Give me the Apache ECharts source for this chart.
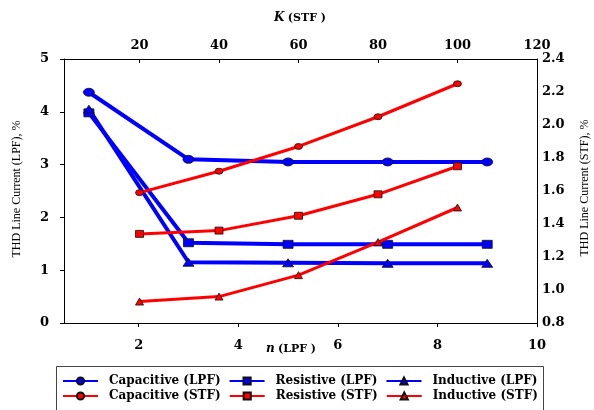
<!DOCTYPE html>
<html>
<head>
<meta charset="utf-8">
<script src="https://cdn.jsdelivr.net/npm/echarts@6/dist/echarts.min.js"></script>
<style>
  html, body { margin: 0; padding: 0; background: #fff; }
  #chart { width: 594px; height: 410px; }
</style>
</head>
<body>
<div id="chart"></div>
<script>
// Harmonic order n for the low-pass filter (bottom axis)
var nLPF = [1, 3, 5, 7, 9];
// THD line current with LPF, % (left axis)
var capLPF = [4.37, 3.10, 3.05, 3.05, 3.05];
var resLPF = [3.98, 1.52, 1.49, 1.49, 1.49];
var indLPF = [4.05, 1.15, 1.14, 1.13, 1.13];

// Gain K for the series tuned filter (top axis)
var kSTF = [20, 40, 60, 80, 100];
// THD line current with STF, % (right axis)
var capSTF = [1.59, 1.72, 1.87, 2.05, 2.25];
var resSTF = [1.34, 1.36, 1.45, 1.58, 1.75];
var indSTF = [0.93, 0.96, 1.09, 1.29, 1.50];

// Tick labels
var nTicks = [2, 4, 6, 8, 10];
var kTicks = [20, 40, 60, 80, 100, 120];

function pairs(xs, ys) {
  return xs.map(function (x, i) { return [x, ys[i]]; });
}

var BLUE = '#0000FF';
var RED = '#FF0000';
var tickFont = { fontFamily: 'DejaVu Serif', fontWeight: 'bold', fontSize: 13, color: '#000' };
var axisLine = { show: true, onZero: false, lineStyle: { color: '#000', width: 1 } };

function lpfSeries(name, symbol, size, values) {
  return {
    name: name, type: 'line', xAxisIndex: 0, yAxisIndex: 0,
    data: pairs(nLPF, values),
    symbol: symbol, symbolSize: size,
    lineStyle: { color: BLUE, width: 4 },
    itemStyle: { color: BLUE, borderColor: '#111', borderWidth: 0.8 },
    z: 2
  };
}
function stfSeries(name, symbol, size, values) {
  return {
    name: name, type: 'line', xAxisIndex: 1, yAxisIndex: 1,
    data: pairs(kSTF, values),
    symbol: symbol, symbolSize: size,
    lineStyle: { color: RED, width: 3 },
    itemStyle: { color: RED, borderColor: '#111', borderWidth: 0.8 },
    z: 3
  };
}

var legendText = { fontFamily: 'DejaVu Serif', fontWeight: 'bold', fontSize: 12, color: '#000', padding: [0, 0, 0, 6] };

var chart = echarts.init(document.getElementById('chart'), null, { renderer: 'canvas' });
chart.setOption({
  animation: false,
  backgroundColor: '#fff',
  grid: { left: 64, right: 57, top: 59, bottom: 87, containLabel: false },
  xAxis: [
    {
      type: 'value', position: 'bottom', min: 0.5, max: 10,
      axisLine: axisLine,
      axisTick: { show: true, inside: false, length: 4, customValues: nTicks, lineStyle: { color: '#000' } },
      axisLabel: Object.assign({ margin: 16, customValues: nTicks }, tickFont),
      splitLine: { show: false }
    },
    {
      type: 'value', position: 'top', min: 1, max: 120,
      axisLine: axisLine,
      axisTick: { show: true, inside: true, length: 4, customValues: kTicks, lineStyle: { color: '#000' } },
      axisLabel: Object.assign({ margin: 7, customValues: kTicks }, tickFont),
      splitLine: { show: false }
    }
  ],
  yAxis: [
    {
      type: 'value', position: 'left', min: 0, max: 5, interval: 1,
      axisLine: axisLine,
      axisTick: { show: true, inside: false, length: 4, lineStyle: { color: '#000' } },
      axisLabel: Object.assign({ margin: 15 }, tickFont),
      splitLine: { show: false }
    },
    {
      type: 'value', position: 'right', min: 0.8, max: 2.4, interval: 0.2,
      axisLine: axisLine,
      axisTick: { show: false },
      axisLabel: Object.assign({ margin: 5, formatter: function (v) { return v.toFixed(1); } }, tickFont),
      splitLine: { show: false }
    }
  ],
  legend: [
    {
      data: ['Capacitive (LPF)', 'Resistive (LPF)', 'Inductive (LPF)'],
      left: 57, top: 370, itemWidth: 35, itemHeight: 9, itemGap: 8,
      textStyle: legendText, selectedMode: false
    },
    {
      data: ['Capacitive (STF)', 'Resistive (STF)', 'Inductive (STF)'],
      left: 57, top: 385, itemWidth: 35, itemHeight: 9, itemGap: 8,
      textStyle: legendText, selectedMode: false
    }
  ],
  graphic: [
    {
      type: 'rect', left: 54, top: 364, z: -1,
      shape: { width: 487, height: 60 },
      style: { fill: 'none', stroke: '#444', lineWidth: 1 }
    },
    {
      type: 'text', x: 17, y: 189, rotation: Math.PI / 2,
      style: { text: 'THD Line Current (LPF), %', fontFamily: 'Liberation Serif', fontSize: 12, fill: '#000', align: 'center', verticalAlign: 'middle' }
    },
    {
      type: 'text', x: 585, y: 188, rotation: Math.PI / 2,
      style: { text: 'THD Line Current (STF), %', fontFamily: 'Liberation Serif', fontSize: 12, fill: '#000', align: 'center', verticalAlign: 'middle' }
    },
    {
      type: 'text', x: 300, y: 18,
      style: {
        text: '{i|K} {b|(STF )}', align: 'center', verticalAlign: 'middle',
        rich: {
          i: { fontFamily: 'DejaVu Serif', fontStyle: 'italic', fontWeight: 'bold', fontSize: 12, fill: '#000' },
          b: { fontFamily: 'DejaVu Serif', fontWeight: 'bold', fontSize: 11, fill: '#000' }
        }
      }
    },
    {
      type: 'text', x: 291, y: 349,
      style: {
        text: '{i|n} {b|(LPF )}', align: 'center', verticalAlign: 'middle',
        rich: {
          i: { fontFamily: 'DejaVu Serif', fontStyle: 'italic', fontWeight: 'bold', fontSize: 12, fill: '#000' },
          b: { fontFamily: 'DejaVu Serif', fontWeight: 'bold', fontSize: 11, fill: '#000' }
        }
      }
    }
  ],
  series: [
    lpfSeries('Capacitive (LPF)', 'circle', [11, 8], capLPF),
    lpfSeries('Resistive (LPF)', 'rect', [10, 8], resLPF),
    lpfSeries('Inductive (LPF)', 'triangle', [11, 8], indLPF),
    stfSeries('Capacitive (STF)', 'circle', [8, 6], capSTF),
    stfSeries('Resistive (STF)', 'rect', [8, 7], resSTF),
    stfSeries('Inductive (STF)', 'triangle', [8, 7], indSTF)
  ]
});
</script>
</body>
</html>
